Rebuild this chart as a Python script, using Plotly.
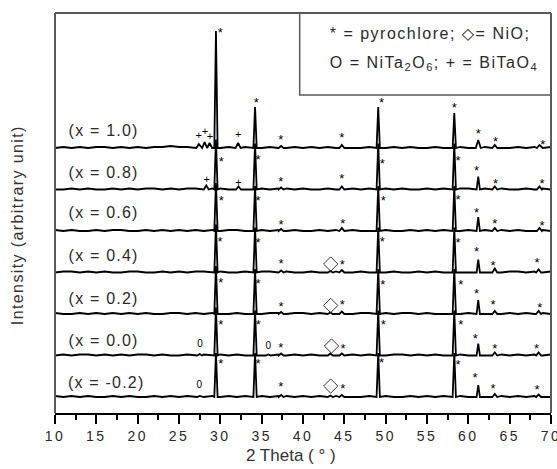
import plotly.graph_objects as go

# ---------------- data ----------------
labels = ["(x = 1.0)", "(x = 0.8)", "(x = 0.6)", "(x = 0.4)", "(x = 0.2)", "(x = 0.0)", "(x = -0.2)"]
offsets = [265, 223.5, 182, 140.5, 99, 57.5, 16]
label_dy = [18, 17.5, 19, 17.5, 16, 15.5, 15]

bg_theta = list(range(10, 71))
bg_10 = [0,1,0,1,0,1,1,0,1,0, 1,0,1,1,2,1,1,0,1,0, 0,1,0,1,1,0,1,0,0,1, 0,1,0,1,0,1,0,0,1,1, 0,1,0,1,0,0,1,0,1,1, 0,0,1,1,0,0,1,0,1,0, 1]
bg_08 = [0,0,1,0,1,0,0,1,0,1, 0,1,1,0,1,0,1,1,0,1, 1,0,1,0,1,1,0,1,1,0, 1,0,0,1,0,1,1,0,1,0, 1,0,1,0,0,1,0,1,0,1, 1,0,1,0,1,0,0,1,0,1, 0]
bg_06 = [1,0,1,0,0,1,0,1,1,0, 0,1,0,1,0,1,0,1,0,1, 0,1,1,0,0,1,0,1,0,1, 0,0,1,0,1,0,1,0,0,1, 1,0,0,1,0,1,0,1,0,0, 1,0,1,0,1,0,1,0,0,1, 0]
bg_04 = [0,1,1,0,1,0,1,0,0,1, 1,0,0,1,0,1,0,1,1,0, 1,0,0,1,0,1,1,0,1,0, 0,1,0,1,1,0,0,1,0,1, 0,1,0,0,1,0,1,0,1,0, 0,1,0,1,0,1,1,0,1,0, 1]
bg_02 = [1,0,0,1,0,1,0,1,0,1, 0,1,0,0,1,1,0,1,0,1, 0,0,1,0,1,0,1,1,0,1, 1,0,1,0,0,1,0,1,1,0, 1,0,1,1,0,1,0,0,1,0, 1,0,0,1,0,1,0,1,0,1, 0]
bg_00 = [0,1,0,1,1,0,1,0,1,0, 1,1,0,1,0,0,1,0,1,0, 1,0,1,0,1,0,0,1,0,1, 0,1,0,1,0,0,1,0,1,0, 0,1,1,0,1,0,1,0,0,1, 0,1,0,1,1,0,1,0,1,0, 1]
bg_m02 = [1,0,1,0,1,0,0,1,0,1, 0,0,1,0,1,0,1,0,0,1, 0,1,0,1,0,1,0,1,1,0, 1,0,1,0,1,1,0,0,1,0, 1,0,0,1,0,1,0,1,0,1, 0,1,0,0,1,0,1,0,1,0, 0]
backgrounds = [bg_10, bg_08, bg_06, bg_04, bg_02, bg_00, bg_m02]

pk_pos_10 = [27.4, 28.1, 28.7, 29.47, 32.15, 34.2, 37.35, 44.7, 49.1, 58.3, 61.2, 63.2, 68.6]
pk_h_10   = [4, 6, 5, 117, 5, 41, 2, 3, 41, 35, 8, 3, 3]
pk_pos_08 = [28.3, 29.47, 32.2, 34.2, 37.35, 44.7, 49.1, 58.3, 61.2, 63.2, 68.6]
pk_h_08   = [4, 50, 3, 46, 2, 3, 46, 46, 13, 3, 3]
pk_pos_06 = [29.47, 34.2, 37.35, 44.7, 49.1, 58.3, 61.2, 63.2, 68.6]
pk_h_06   = [48, 45, 2, 3, 45, 45, 14, 3, 3]
pk_pos_04 = [29.47, 34.2, 37.35, 43.3, 44.7, 49.1, 58.3, 61.2, 63.2, 68.5]
pk_h_04   = [48, 45, 2, 1.5, 2.5, 45, 45, 13, 4, 3]
pk_pos_02 = [29.47, 34.2, 37.35, 43.3, 44.7, 49.1, 58.3, 61.2, 63.2, 68.5]
pk_h_02   = [48, 45, 2, 1.5, 2.5, 45, 45, 14, 3, 3]
pk_pos_00 = [27.5, 29.47, 34.2, 35.8, 37.35, 43.3, 44.7, 49.1, 58.3, 61.2, 63.2, 68.5]
pk_h_00   = [1.5, 48, 45, 1, 2, 2, 2, 45, 45, 12, 3, 3]
pk_pos_m02 = [27.5, 29.47, 34.2, 37.35, 43.3, 44.7, 49.1, 58.3, 61.2, 63.2, 68.5]
pk_h_m02   = [1, 44, 44, 2, 1.5, 2, 44, 44, 12, 3, 2.5]
peak_pos = [pk_pos_10, pk_pos_08, pk_pos_06, pk_pos_04, pk_pos_02, pk_pos_00, pk_pos_m02]
peak_h = [pk_h_10, pk_h_08, pk_h_06, pk_h_04, pk_h_02, pk_h_00, pk_h_m02]

# phase marks: (2theta, height above trace baseline)
star_10 = [(30.0, 116), (34.35, 46), (37.3, 9), (44.7, 11), (49.5, 46), (58.3, 41), (61.2, 15), (63.3, 7), (69.0, 4)]
star_08 = [(30.1, 29), (34.55, 30.5), (37.3, 9), (44.7, 12), (49.6, 27), (58.75, 29.5), (61.0, 19.5), (63.3, 6.5), (68.9, 6.5)]
star_06 = [(30.1, 31), (34.55, 31), (37.35, 7), (44.8, 8.5), (49.7, 31), (58.75, 32.7), (61.0, 19.5), (63.2, 8.5), (68.9, 6)]
star_04 = [(29.95, 32), (34.55, 31), (37.35, 10), (44.75, 9), (49.6, 32), (58.75, 31), (61.0, 22), (63.0, 7.5), (68.3, 11)]
star_02 = [(30.05, 32), (34.55, 31), (37.35, 8), (44.75, 10.5), (49.65, 30), (59.1, 30), (61.0, 21), (63.0, 10.5), (68.65, 7.5)]
star_00 = [(30.05, 31.5), (34.6, 31.5), (37.3, 9), (44.85, 8), (49.7, 31.5), (59.1, 31.5), (60.85, 18), (63.2, 8), (68.25, 8)]
star_m02 = [(30.05, 34), (34.55, 34), (37.3, 11), (44.8, 9), (49.5, 35), (58.75, 33), (60.8, 20), (63.0, 9.5), (68.3, 8)]
stars = [star_10, star_08, star_06, star_04, star_02, star_00, star_m02]

plus_marks = [(0, 27.4, 12), (0, 28.14, 16), (0, 28.75, 11), (0, 32.17, 13), (1, 28.35, 9.5), (1, 32.2, 6.5)]
nio_marks = [(3, 43.35, 8.5), (4, 43.35, 8.5), (5, 43.45, 9.5), (6, 43.35, 11)]
nita_marks = [(5, 27.55, 11.5), (5, 35.8, 9.5), (6, 27.45, 12)]

x_ticks = [10, 15, 20, 25, 30, 35, 40, 45, 50, 55, 60, 65, 70]

# ---------------- figure ----------------
FONT = "Liberation Sans, Arial, DejaVu Sans, sans-serif"
TXT = "#2a2a2a"
fig = go.Figure()

for i in range(len(labels)):
    pts = []
    for t, v in zip(bg_theta, backgrounds[i]):
        if all(abs(t - p) > 0.35 for p in peak_pos[i]):
            pts.append((t, v))
    for p, h in zip(peak_pos[i], peak_h[i]):
        w = 0.2 if h > 10 else 0.3
        pts += [(p - w, 0), (p, h), (p + w, 0)]
    pts.sort()
    fig.add_trace(go.Scatter(
        x=[q[0] for q in pts], y=[q[1] + offsets[i] for q in pts],
        mode="lines", line=dict(color="black", width=1.8), hoverinfo="skip"))
    sx = [s[0] for s in stars[i]]
    sy = [s[1] + offsets[i] - 2 for s in stars[i]]
    fig.add_trace(go.Scatter(x=sx, y=sy, mode="text", text=["*"] * len(sx), opacity=0.99,
                             textfont=dict(family=FONT, size=13, color="black")))
    fig.add_annotation(x=12.1, y=offsets[i] + label_dy[i], xref="x", yref="y",
                       text=labels[i], showarrow=False, xanchor="left", yanchor="middle",
                       font=dict(family=FONT, size=16, color=TXT))

fig.add_trace(go.Scatter(x=[m[1] for m in plus_marks], y=[m[2] + offsets[m[0]] for m in plus_marks],
                         mode="text", text=["+"] * len(plus_marks), opacity=0.99,
                         textfont=dict(family=FONT, size=11, color="black")))
fig.add_trace(go.Scatter(x=[m[1] for m in nio_marks], y=[m[2] + offsets[m[0]] for m in nio_marks],
                         mode="markers", marker=dict(symbol="diamond-open", size=11,
                                                      line=dict(color="#333", width=1), color="#333")))
fig.add_trace(go.Scatter(x=[m[1] for m in nita_marks], y=[m[2] + offsets[m[0]] for m in nita_marks],
                         mode="text", text=["0"] * len(nita_marks), opacity=0.99,
                         textfont=dict(family=FONT, size=10, color="black")))

# frame (top, left, right) and legend box
frame = dict(color="#5a5a5a", width=2)
fig.add_shape(type="line", xref="paper", yref="paper", x0=0, x1=1, y0=1, y1=1, line=frame)
fig.add_shape(type="line", xref="paper", yref="paper", x0=0, x1=0, y0=0, y1=1, line=frame)
fig.add_shape(type="line", xref="paper", yref="paper", x0=1, x1=1, y0=0, y1=1, line=frame)
fig.add_shape(type="rect", xref="x", yref="y", x0=39.6, x1=70, y0=318, y1=400,
              line=dict(color="#5a5a5a", width=1.5))

fig.add_annotation(x=0.756, y=0.95, xref="paper", yref="paper", showarrow=False,
                   text="* = pyrochlore; \u25c7= NiO;", xanchor="center", yanchor="middle",
                   font=dict(family=FONT, size=16, color=TXT))
fig.add_annotation(x=0.765, y=0.875, xref="paper", yref="paper", showarrow=False,
                   text="O = NiTa<sub>2</sub>O<sub>6</sub>; + = BiTaO<sub>4</sub>",
                   xanchor="center", yanchor="middle",
                   font=dict(family=FONT, size=16, color=TXT))

fig.add_annotation(x=-0.0766, y=0.47, xref="paper", yref="paper", showarrow=False,
                   text="Intensity (arbitrary unit)", textangle=-90,
                   xanchor="center", yanchor="middle",
                   font=dict(family=FONT, size=16, color="#333"))
fig.add_annotation(x=0.476, y=-0.105, xref="paper", yref="paper", showarrow=False,
                   text="2 Theta ( \u00b0 )", xanchor="center", yanchor="middle",
                   font=dict(family=FONT, size=17, color="#333"))

fig.update_layout(
    width=557, height=469, margin=dict(l=55, r=6, t=13, b=56, autoexpand=False),
    plot_bgcolor="white", paper_bgcolor="white", showlegend=False,
    xaxis=dict(range=[10, 70], tickvals=x_ticks, ticks="outside", ticklen=9, tickwidth=1.5,
               tickcolor="black", showline=True, linecolor="black", linewidth=2,
               showgrid=False, zeroline=False, ticklabeloverflow="allow", automargin=False,
               tickfont=dict(family=FONT, size=14, color=TXT),
               minor=dict(dtick=2.5, tick0=10, ticks="outside", ticklen=5, tickwidth=1.5,
                          tickcolor="black", showgrid=False)),
    yaxis=dict(range=[0, 400], visible=False, fixedrange=True, automargin=False),
)

post_js = """
var gd = document.getElementById('{plot_id}');
function spaceText(){
  gd.querySelectorAll('text.annotation-text').forEach(function(t){
    var s = t.textContent, v = '0px';
    if (s.indexOf('(x =') === 0) v = '1.2px';
    else if (s.indexOf('pyrochlore') >= 0 || s.indexOf('NiTa') >= 0) v = '1.5px';
    else if (s.indexOf('Intensity') >= 0) v = '1.4px';
    t.style.letterSpacing = v;
  });
  gd.querySelectorAll('g.xtick text').forEach(function(t){ t.style.letterSpacing = '2.5px'; });
}
spaceText();
gd.on('plotly_afterplot', spaceText);
"""

fig.write_html("out.html", post_script=post_js)
